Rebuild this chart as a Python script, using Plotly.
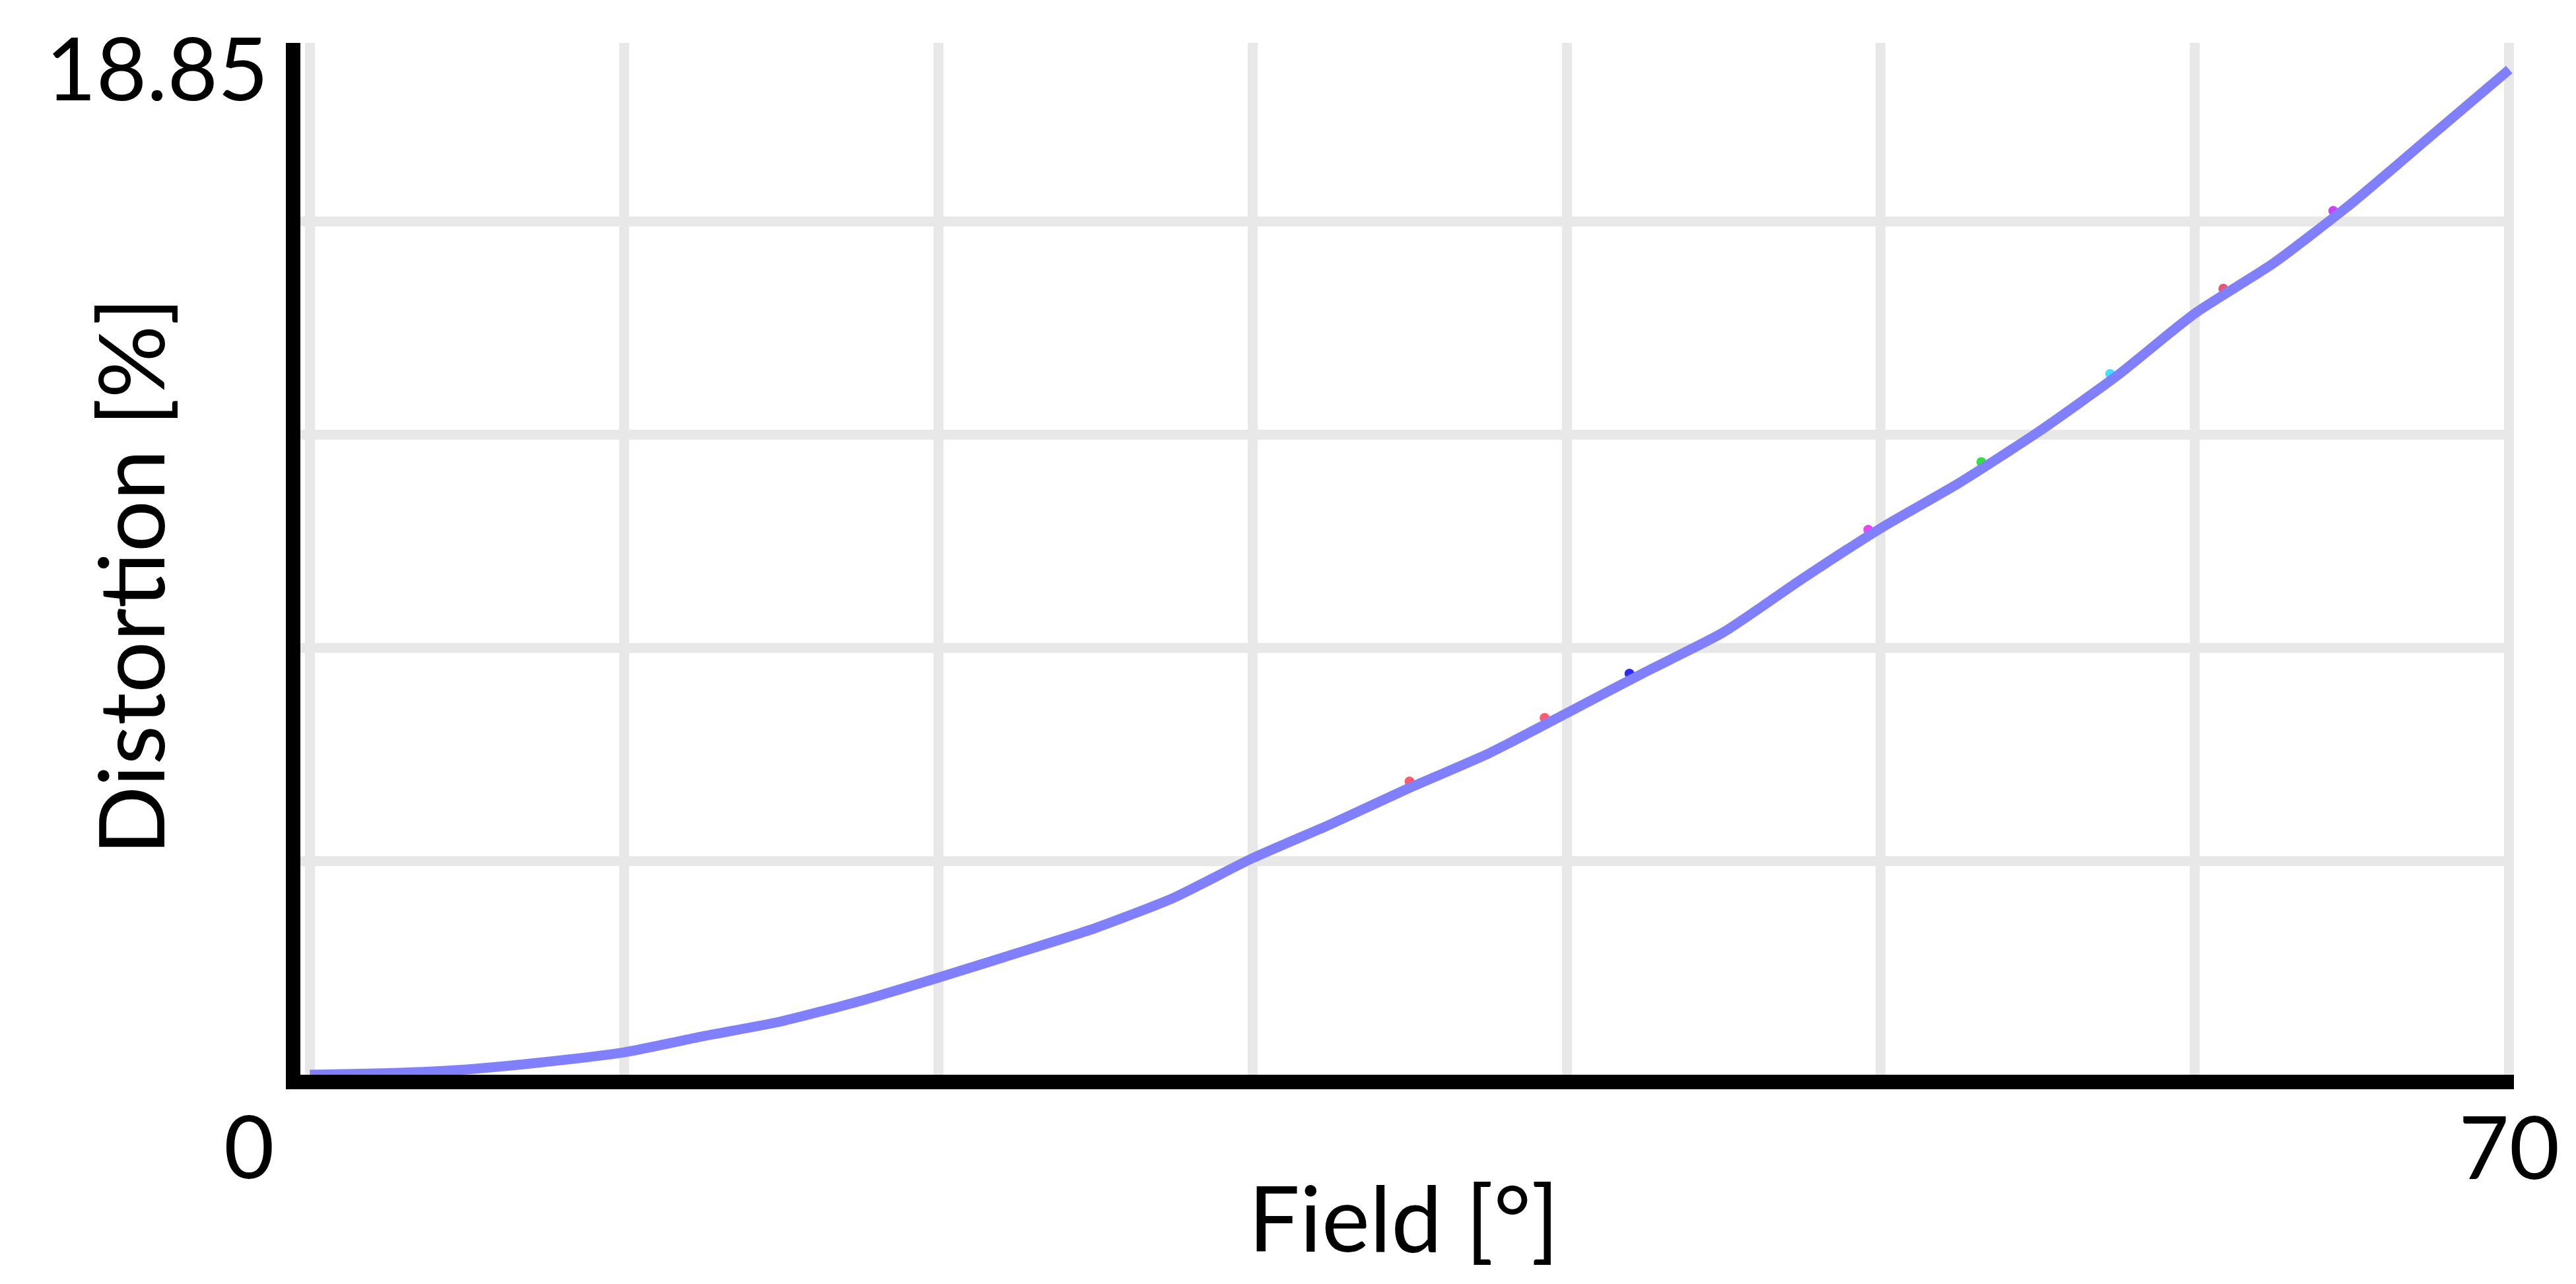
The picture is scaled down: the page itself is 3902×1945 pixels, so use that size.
import plotly.graph_objects as go

# Data
field_deg = [0, 2.5, 5, 7.5, 10, 12.5, 15, 17.5, 20, 22.5, 25, 27.5, 30, 32.5, 35,
             37.5, 40, 42.5, 45, 47.5, 50, 52.5, 55, 57.5, 60, 62.5, 65, 67.5, 70]
distortion_pct = [0, 0.03, 0.1, 0.24, 0.42, 0.72, 1.0, 1.38, 1.82, 2.28, 2.75, 3.32, 4.06,
                  4.7, 5.38, 6.02, 6.78, 7.55, 8.3, 9.3, 10.25, 11.1, 12.05, 13.1, 14.28,
                  15.22, 16.35, 17.6, 18.85]

# small visible fragments of other wavelength curves peeking out from under the main curve
other_field = [35.0, 39.3, 42.0, 49.6, 53.2, 57.3, 60.9, 64.4]
other_pct = [5.5, 6.69, 7.52, 10.22, 11.49, 13.14, 14.74, 16.2]
other_color = ["#ff5a6e", "#ff5a6e", "#2a2aff", "#f040ff", "#30e040", "#40e0ff",
               "#e05a78", "#d040ff"]

x_tickvals = [70]
x_ticktext = ["70"]
x_gridvals = [0, 10, 20, 30, 40, 50, 60]
y_tickvals = [18.85]
y_ticktext = ["18.85"]
y_gridvals = [0, 4, 8, 12, 16]

x_title = "Field [°]"
y_title = "Distortion [%]"
origin_label = "0"

FONT = "Lato"
FS_TICK = 132
FS_TITLE = 138
GRID = "#e8e8e8"

fig = go.Figure()
fig.add_trace(go.Scatter(
    x=other_field, y=other_pct, mode="markers",
    marker=dict(color=other_color, size=15, line=dict(width=0)),
    showlegend=False, hoverinfo="skip",
))
fig.add_trace(go.Scatter(
    x=field_deg, y=distortion_pct, mode="lines",
    line=dict(color="#8080ff", width=15, shape="spline", smoothing=0.6),
    showlegend=False, hoverinfo="skip",
))

fig.update_layout(
    template="none",
    width=3902, height=1945,
    margin=dict(l=447, r=102, t=57, b=325, autoexpand=False),
    paper_bgcolor="white", plot_bgcolor="white",
    font=dict(family=FONT, size=FS_TICK, color="black"),
    showlegend=False,
)

fig.update_xaxes(
    range=[-0.3, 70.15], automargin=False,
    tickmode="array", tickvals=x_tickvals, ticktext=x_ticktext,
    ticks="", showgrid=True, gridcolor=GRID, gridwidth=15,
    minor=dict(tickmode="array", tickvals=x_gridvals, showgrid=True,
               gridcolor=GRID, gridwidth=15, ticks=""),
    zeroline=False, showline=True, linecolor="black", linewidth=22,
    tickfont=dict(family=FONT, size=FS_TICK, color="black"),
    ticklabelstandoff=-22,
)
fig.update_yaxes(
    range=[0, 19.35], automargin=False,
    tickmode="array", tickvals=y_tickvals, ticktext=y_ticktext,
    ticks="", showgrid=False,
    minor=dict(tickmode="array", tickvals=y_gridvals, showgrid=True,
               gridcolor=GRID, gridwidth=15, ticks=""),
    zeroline=False, showline=True, linecolor="black", linewidth=22,
    tickfont=dict(family=FONT, size=FS_TICK, color="black"),
)

fig.add_annotation(text=y_title, xref="paper", yref="paper", x=-0.0775, y=0.483,
                   xanchor="center", yanchor="middle", textangle=-90, showarrow=False,
                   font=dict(family=FONT, size=FS_TITLE, color="black"))
fig.add_annotation(text=x_title, xref="paper", yref="paper", x=0.4985, y=-0.137,
                   xanchor="center", yanchor="middle", showarrow=False,
                   font=dict(family=FONT, size=FS_TITLE, color="black"))
fig.add_annotation(text=origin_label, xref="paper", yref="paper", x=-0.023, y=-0.068,
                   xanchor="center", yanchor="middle", showarrow=False,
                   font=dict(family=FONT, size=FS_TICK, color="black"))

fig.write_html("out.html")
